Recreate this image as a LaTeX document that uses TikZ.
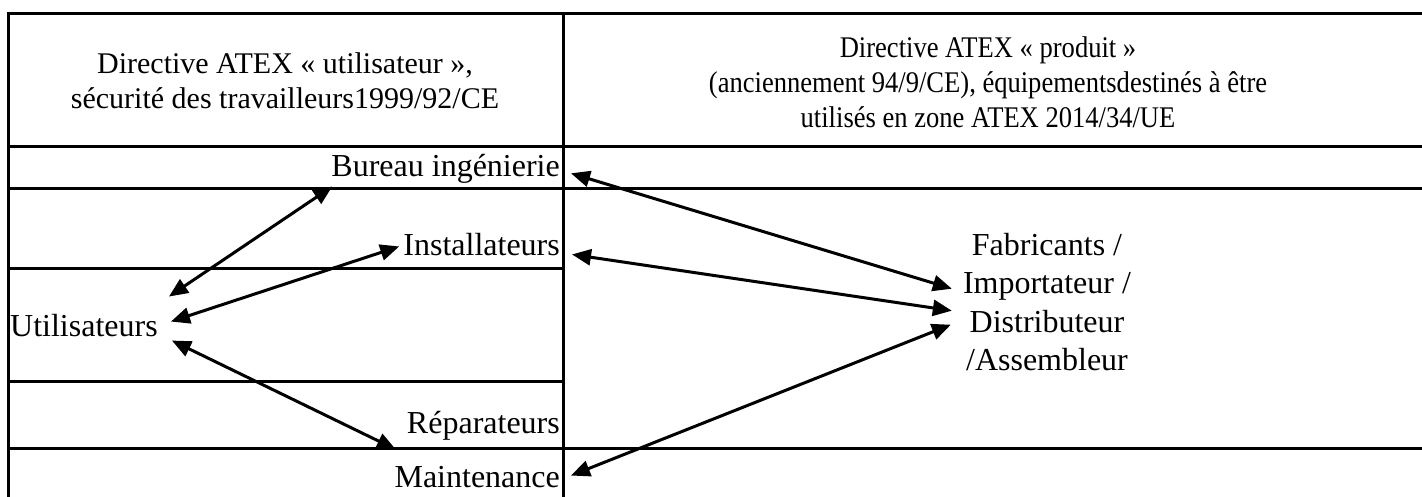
\documentclass[tikz,border=0pt]{standalone}
\usepackage{fontspec}
\setmainfont{Liberation Serif}
\newfontfamily\narrowserif[FakeStretch=0.885]{Liberation Serif}
\usetikzlibrary{arrows.meta}
\begin{document}
\begin{tikzpicture}[x=1pt,y=-1pt,
  rule/.style={line width=3pt},
  txt/.style={inner sep=0pt, font=\fontsize{32pt}{35pt}\selectfont},
  head/.style={inner sep=0pt, align=center, font=\fontsize{30pt}{35pt}\selectfont},
  narrowhead/.style={head, font=\narrowserif\fontsize{30pt}{35pt}\selectfont},
  stack/.style={txt, align=center, font=\fontsize{32pt}{38.5pt}\selectfont},
  link/.style={line width=3pt,
    {Triangle[length=19pt,width=16pt]}-{Triangle[length=19pt,width=16pt]}}]
\useasboundingbox (0,0) rectangle (1422,497);

% table rules
\draw[rule] (1430,14) -- (8.5,14) -- (8.5,505);
\draw[rule] (563,14) -- (563,505);
\draw[rule] (8.5,147) -- (1430,147);
\draw[rule] (8.5,189) -- (1430,189);
\draw[rule] (8.5,269) -- (563,269);
\draw[rule] (8.5,381) -- (563,381);
\draw[rule] (8.5,448) -- (1430,448);

% column headers
\node[head] (hdrL) at (285,81)
  {Directive ATEX « utilisateur »,\\sécurité des travailleurs1999/92/CE};
\node[narrowhead] (hdrR) at (988,82)
  {Directive ATEX « produit »\\(anciennement 94/9/CE), équipementsdestinés à être\\utilisés en zone ATEX 2014/34/UE};

% actors
\node[txt, anchor=base east] (bureau) at (560,177) {Bureau ingénierie};
\node[txt, anchor=base east] (install) at (560,256) {Installateurs};
\node[txt, anchor=base west] (util) at (10,336) {Utilisateurs};
\node[txt, anchor=base east] (repar) at (560,433) {Réparateurs};
\node[txt, anchor=base east] (maint) at (560,487) {Maintenance};
\node[stack, anchor=north] (fab) at (1047,233)
  {Fabricants /\\Importateur /\\Distributeur\\/Assembleur};

% relations on the user side
\draw[link] ([shift={(11,-28.5)}]util.east) -- ([shift={(1,2.4)}]bureau.south west);
\draw[link] ([shift={(13,-3.5)}]util.east) -- ([shift={(-4,1.4)}]install.west);
\draw[link] ([shift={(14,15.5)}]util.east) -- ([shift={(-11,9.4)}]repar.south west);

% relations on the product side
\draw[link] ([shift={(11,4)}]bureau.east) -- ([shift={(-11,-13.5)}]fab.west);
\draw[link] ([shift={(12,9.4)}]install.east) -- ([shift={(-11,8.5)}]fab.west);
\draw[link] ([shift={(11,-1)}]maint.east) -- ([shift={(-12,22.5)}]fab.west);
\end{tikzpicture}
\end{document}
